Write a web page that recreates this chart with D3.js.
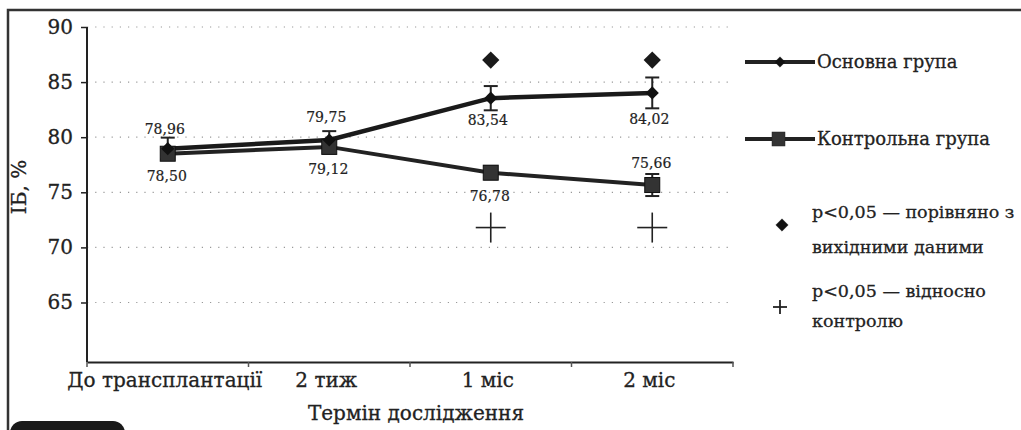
<!DOCTYPE html>
<html><head><meta charset="utf-8">
<script src="https://cdn.jsdelivr.net/npm/d3@7"></script>
<style>body{margin:0;background:#fff}svg{display:block}</style>
</head><body>
<svg id="c" width="1021" height="430"></svg>
<script>
const categories = ["До трансплантації", "2 тиж", "1 міс", "2 міс"];
const mainValues = [78.96, 79.75, 83.54, 84.02];
const mainErr = [1.0, 0.8, 1.1, 1.4];
const controlValues = [78.50, 79.12, 76.78, 75.66];
const controlErr = [0.5, 0.6, 0.6, 1.0];
const mainLabels = ["78,96", "79,75", "83,54", "84,02"];
const controlLabels = ["78,50", "79,12", "76,78", "75,66"];
const diamondSig = [null, null, 87, 87];
const plusSig = [null, null, 71.8, 71.8];
const yTicks = [65, 70, 75, 80, 85, 90];

const svg = d3.select("#c");
const font = "'DejaVu Serif', serif";
const L = 87, R = 733, T = 27, B = 362;
const x = d3.scaleBand().domain(categories).range([L, R]);
const y = d3.scaleLinear().domain([59.6, 90]).range([B, T]);
const cx = c => x(c) + x.bandwidth() / 2;
const ink = "#222";

// frame
svg.append("path").attr("d", "M8,430 L8,10 L1021,10").attr("fill", "none").attr("stroke", "#333").attr("stroke-width", 2.5);

// grid
svg.append("g").selectAll("line").data(yTicks).join("line")
  .attr("x1", L).attr("x2", R).attr("y1", d => y(d)).attr("y2", d => y(d))
  .attr("stroke", "#999").attr("stroke-width", 1.2).attr("stroke-dasharray", "1.2,7");

// y axis
const ya = svg.append("g").attr("transform", `translate(${L},0)`)
  .call(d3.axisLeft(y).tickValues(yTicks).tickSize(6).tickPadding(8));
ya.select(".domain").attr("d", `M0,${T} V${B}`).attr("stroke", ink).attr("stroke-width", 2);
ya.selectAll(".tick line").attr("stroke", ink).attr("stroke-width", 1.5);
ya.selectAll("text").attr("font-family", font).attr("font-size", 20).attr("fill", ink)
  .attr("stroke", ink).attr("stroke-width", 0.3);

// x axis
const xa = svg.append("g").attr("transform", `translate(0,${B})`)
  .call(d3.axisBottom(x).tickSize(0).tickPadding(11));
xa.select(".domain").attr("stroke", ink).attr("stroke-width", 2);
xa.selectAll("text").attr("font-family", font).attr("font-size", 20).attr("fill", ink)
  .attr("stroke", ink).attr("stroke-width", 0.3);
xa.selectAll(".tick").attr("transform", d => `translate(${cx(d) - 3},0)`);
svg.append("g").selectAll("line").data(categories.concat(["end"])).join("line")
  .attr("x1", (d, i) => L + i * x.bandwidth()).attr("x2", (d, i) => L + i * x.bandwidth())
  .attr("y1", B).attr("y2", B + 5).attr("stroke", "#555").attr("stroke-width", 1.5);

// axis titles
svg.append("text").attr("transform", `translate(26,187) rotate(-90)`).attr("text-anchor", "middle")
  .attr("font-family", font).attr("font-size", 20).attr("fill", ink).attr("stroke", ink).attr("stroke-width", 0.3).text("ІБ, %");
svg.append("text").attr("x", 416).attr("y", 420).attr("text-anchor", "middle")
  .attr("font-family", font).attr("font-size", 20).attr("fill", ink).attr("stroke", ink).attr("stroke-width", 0.3).text("Термін дослідження");

// error bars
function errBars(vals, errs) {
  const g = svg.append("g").attr("stroke", ink).attr("stroke-width", 2);
  vals.forEach((v, i) => {
    const xx = cx(categories[i]);
    g.append("line").attr("x1", xx).attr("x2", xx).attr("y1", y(v - errs[i])).attr("y2", y(v + errs[i]));
    [v - errs[i], v + errs[i]].forEach(e => g.append("line").attr("x1", xx - 7).attr("x2", xx + 7).attr("y1", y(e)).attr("y2", y(e)));
  });
}
errBars(mainValues, mainErr);
errBars(controlValues, controlErr);

const line = d3.line().x((d, i) => cx(categories[i])).y(d => y(d));
svg.append("path").datum(controlValues).attr("d", line).attr("fill", "none").attr("stroke", ink).attr("stroke-width", 4);
svg.append("path").datum(mainValues).attr("d", line).attr("fill", "none").attr("stroke", "#1a1a1a").attr("stroke-width", 4.5);

// markers
const sq = 15;
svg.append("g").selectAll("rect").data(controlValues).join("rect")
  .attr("x", (d, i) => cx(categories[i]) - sq / 2).attr("y", d => y(d) - sq / 2)
  .attr("width", sq).attr("height", sq).attr("fill", "#333").attr("stroke", "#111");
const diamond = d3.symbol().type(d3.symbolDiamond2);
svg.append("g").selectAll("path").data(mainValues).join("path")
  .attr("transform", (d, i) => `translate(${cx(categories[i])},${y(d)})`)
  .attr("d", diamond.size(110)()).attr("fill", "#111");

// significance markers
svg.append("g").selectAll("path").data(diamondSig.map((v, i) => [v, i]).filter(d => d[0] != null)).join("path")
  .attr("transform", d => `translate(${cx(categories[d[1]])},${y(d[0])})`)
  .attr("d", diamond.size(190)()).attr("fill", "#1a1a1a");
const pg = svg.append("g").attr("stroke", ink).attr("stroke-width", 1.6);
plusSig.forEach((v, i) => {
  if (v == null) return;
  const xx = cx(categories[i]), yy = y(v);
  pg.append("line").attr("x1", xx - 15).attr("x2", xx + 15).attr("y1", yy).attr("y2", yy);
  pg.append("line").attr("x1", xx).attr("x2", xx).attr("y1", yy - 15).attr("y2", yy + 15);
});

// data labels
const mainOff = [-15, -18, 27, 31];
const ctrlOff = [27, 27, 28, -17];
const lab = svg.append("g").attr("font-family", font).attr("font-size", 14).attr("fill", ink)
  .attr("stroke", ink).attr("stroke-width", 0.2).attr("text-anchor", "middle");
mainValues.forEach((v, i) => lab.append("text").attr("x", cx(categories[i]) - 3).attr("y", y(v) + mainOff[i]).text(mainLabels[i]));
controlValues.forEach((v, i) => lab.append("text").attr("x", cx(categories[i]) - 1).attr("y", y(v) + ctrlOff[i]).text(controlLabels[i]));

// legend
const lg = svg.append("g").attr("font-family", font).attr("font-size", 18).attr("fill", ink)
  .attr("stroke", ink).attr("stroke-width", 0.3);
lg.append("line").attr("x1", 745).attr("x2", 815).attr("y1", 62).attr("y2", 62).attr("stroke-width", 4);
lg.append("path").attr("transform", "translate(780,62)").attr("d", diamond.size(70)()).attr("fill", "#111");
lg.append("text").attr("x", 817).attr("y", 68).text("Основна група");
lg.append("line").attr("x1", 745).attr("x2", 815).attr("y1", 139).attr("y2", 139).attr("stroke-width", 4);
lg.append("rect").attr("x", 772).attr("y", 132).attr("width", 13).attr("height", 14).attr("fill", "#333").attr("stroke-width", 0.5);
lg.append("text").attr("x", 817).attr("y", 145).text("Контрольна група");
lg.append("path").attr("transform", "translate(782,225)").attr("d", diamond.size(100)()).attr("fill", "#111");
lg.append("text").attr("x", 812).attr("y", 218).attr("font-size", 17.5).text("p<0,05 — порівняно з");
lg.append("text").attr("x", 812).attr("y", 253).attr("font-size", 17.5).text("вихідними даними");
lg.append("line").attr("x1", 773).attr("x2", 787).attr("y1", 307).attr("y2", 307).attr("stroke-width", 1.8);
lg.append("line").attr("x1", 780).attr("x2", 780).attr("y1", 300).attr("y2", 314).attr("stroke-width", 1.8);
lg.append("text").attr("x", 812).attr("y", 297).attr("font-size", 17.5).text("p<0,05 — відносно");
lg.append("text").attr("x", 812).attr("y", 327).attr("font-size", 17.5).text("контролю");

// figure badge (cut off by page bottom)
svg.append("rect").attr("x", 10).attr("y", 421).attr("width", 115).attr("height", 28).attr("rx", 12).attr("fill", "#1a1a1a");
</script>
</body></html>
